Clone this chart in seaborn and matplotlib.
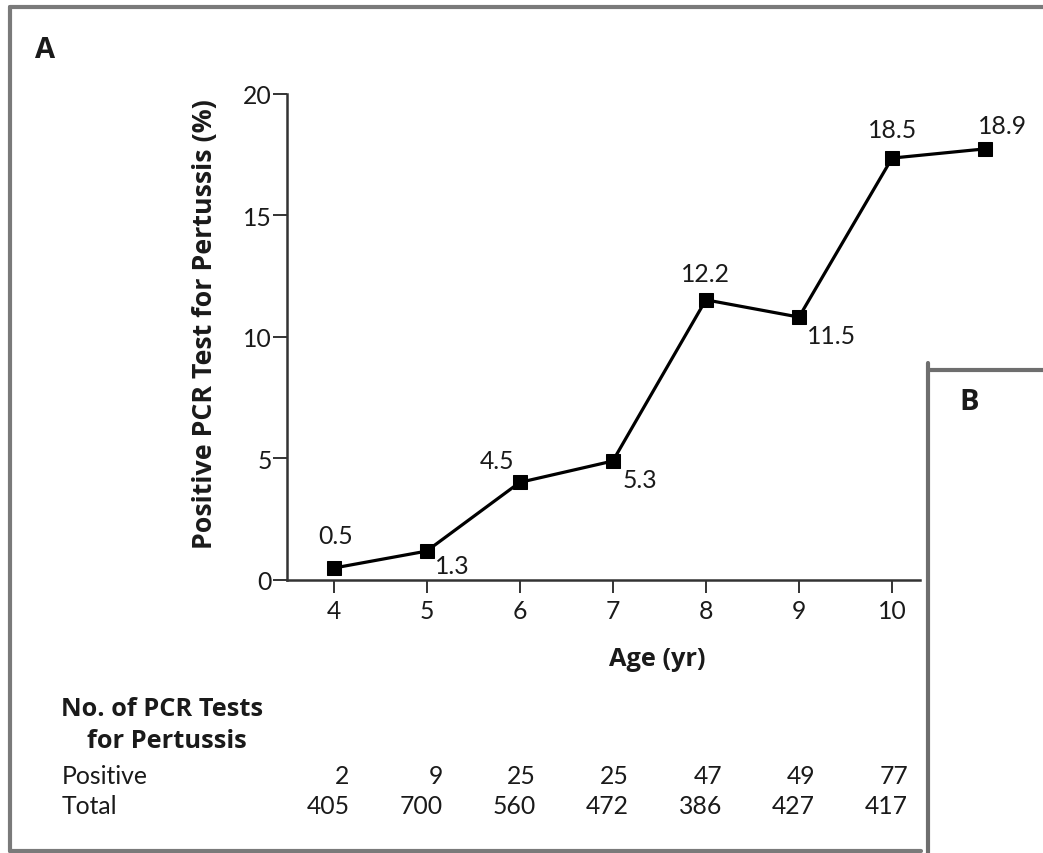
import matplotlib
matplotlib.use('Agg')
import matplotlib.pyplot as plt
import seaborn as sns
import pandas as pd
from matplotlib.lines import Line2D

# ---------------- data ----------------
ages = [4, 5, 6, 7, 8, 9, 10, 11]
pct_plotted = [0.47, 1.17, 4.0, 4.88, 11.52, 10.81, 17.36, 17.74]
pct_labels = ['0.5', '1.3', '4.5', '5.3', '12.2', '11.5', '18.5', '18.9']
x_ticks = [4, 5, 6, 7, 8, 9, 10]
y_ticks = [0, 5, 10, 15, 20]
table_ages = [4, 5, 6, 7, 8, 9, 10]
positive = [2, 9, 25, 25, 47, 49, 77]
total = [405, 700, 560, 472, 386, 427, 417]

# ---------------- style ----------------
sns.set_theme(style='white')
plt.rcParams['font.family'] = ['Lato', 'DejaVu Sans']
BOLD = ['Open Sans', 'DejaVu Sans']
TXT = '#1a1a1a'
W, H = 1043, 854
FS = 17.8
BFS = 18.3

def fx(px):
    return px / W

def fy(py):
    return 1 - py / H

fig = plt.figure(figsize=(W / 100, H / 100), dpi=100)
ax = fig.add_axes([fx(287), fy(580.5), fx(920) - fx(287), fy(95) - fy(580.5)])

df = pd.DataFrame({'age': ages, 'pct': pct_plotted})
sns.lineplot(data=df, x='age', y='pct', ax=ax, color='black', linewidth=2.3,
             marker='s', markersize=10.5, markeredgecolor='black',
             markerfacecolor='black', sort=False)
for ln in ax.lines:
    ln.set_clip_on(False)

ax.set_xlim(3.5, 10.3)
ax.set_ylim(0, 20)
ax.set_xticks(x_ticks)
ax.set_yticks(y_ticks)
ax.set_xticklabels([str(v) for v in x_ticks])
ax.set_yticklabels([str(v) for v in y_ticks])
sns.despine(ax=ax)
for s in ['left', 'bottom']:
    ax.spines[s].set_color('#333333')
    ax.spines[s].set_linewidth(1.8)
ax.tick_params(axis='x', direction='out', length=9, width=1.4, color='#333333',
               pad=5, labelsize=FS, labelcolor=TXT, bottom=True)
ax.tick_params(axis='y', direction='out', length=10, width=1.4, color='#333333',
               pad=1, labelsize=FS, labelcolor=TXT, left=True)
ax.grid(False)
ax.set_facecolor('none')

ax.set_xlabel('Age (yr)', fontsize=BFS, fontweight='bold', color=TXT, family=BOLD)
ax.xaxis.label.set_va('center')
ax.xaxis.set_label_coords((657.7 - 287) / (920 - 287), -(660 - 580.5) / (580.5 - 95))
ax.set_ylabel('Positive PCR Test for Pertussis (%)', fontsize=19.3, fontweight='bold',
              color=TXT, family=BOLD)
ax.yaxis.label.set_va('center')
ax.yaxis.label.set_ha('center')
ax.yaxis.set_label_coords(-(287 - 205) / (920 - 287), (580.5 - 324) / (580.5 - 95))

# point labels (offsets in pixels, ha)
label_style = [((2, 33), 'center'), ((8, -14.5), 'left'), ((-5, 21.7), 'right'),
               ((10, -18), 'left'), ((0, 26), 'center'), ((8, -18), 'left'),
               ((0, 29), 'center'), ((17.5, 23), 'center')]
for x, y, lab, (off, ha) in zip(ages, pct_plotted, pct_labels, label_style):
    ax.annotate(lab, (x, y), xytext=off, textcoords='offset pixels', ha=ha,
                va='center', fontsize=FS, color=TXT, annotation_clip=False)

# table below
fig.text(fx(61), fy(710), 'No. of PCR Tests', fontsize=BFS, fontweight='bold',
         color=TXT, ha='left', va='center', family=BOLD)
fig.text(fx(87), fy(741.7), 'for Pertussis', fontsize=BFS, fontweight='bold',
         color=TXT, ha='left', va='center', family=BOLD)
fig.text(fx(62), fy(776.7), 'Positive', fontsize=FS, color=TXT, ha='left', va='center')
fig.text(fx(62), fy(806.7), 'Total', fontsize=FS, color=TXT, ha='left', va='center')
for a, p, t in zip(table_ages, positive, total):
    ax.annotate(str(p), (a, fy(776.7)), xycoords=('data', 'figure fraction'),
                xytext=(16, 0), textcoords='offset pixels', ha='right', va='center',
                fontsize=FS, color=TXT, annotation_clip=False)
    ax.annotate(str(t), (a, fy(806.7)), xycoords=('data', 'figure fraction'),
                xytext=(16, 0), textcoords='offset pixels', ha='right', va='center',
                fontsize=FS, color=TXT, annotation_clip=False)

# panel letters
fig.text(fx(35), fy(50.5), 'A', fontsize=21, fontweight='bold', color=TXT,
         ha='left', va='center', family=BOLD)
fig.text(fx(959), fy(402), 'B', fontsize=21, fontweight='bold', color=TXT,
         ha='left', va='center', family=BOLD)

# panel frames
frame_col = '#7a7a7a'
lw = 3
fig.add_artist(Line2D([fx(10), fx(1043)], [fy(7.5), fy(7.5)], color=frame_col, lw=lw))
fig.add_artist(Line2D([fx(10), fx(10)], [fy(7.5), fy(852)], color=frame_col, lw=lw))
fig.add_artist(Line2D([fx(10), fx(921)], [fy(852), fy(852)], color=frame_col, lw=lw))
fig.add_artist(Line2D([fx(928), fx(928)], [fy(364), fy(854)], color='#6e6e6e', lw=lw))
fig.add_artist(Line2D([fx(928), fx(1043)], [fy(370.5), fy(370.5)], color='#6e6e6e', lw=lw))

fig.savefig('out.png', dpi=100, facecolor='white')
